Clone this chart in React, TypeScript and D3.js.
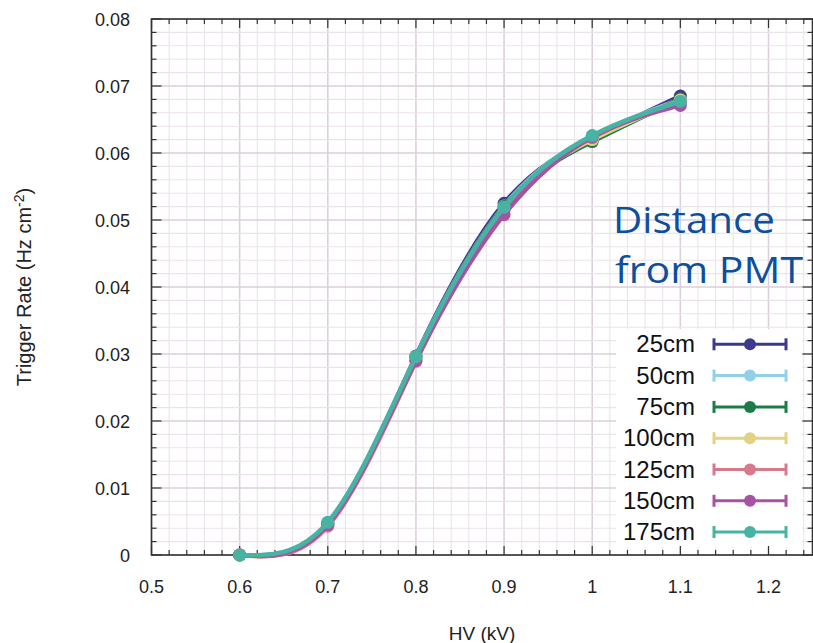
import React from 'react';
import * as d3 from 'd3';

const hv = [0.6, 0.7, 0.8, 0.9, 1.0, 1.1];
const seriesNames = ['25cm', '50cm', '75cm', '100cm', '125cm', '150cm', '175cm'];
const seriesColors = ['#3d3a8e', '#92d0ea', '#1b7c46', '#e2d283', '#d6798a', '#a653a6', '#47b3a2'];
const r25 = [0, 0.0047, 0.0297, 0.0525, 0.0622, 0.0685];
const r50 = [0, 0.0048, 0.0296, 0.0521, 0.0625, 0.068];
const r75 = [0, 0.0046, 0.0294, 0.052, 0.0617, 0.0681];
const r100 = [0, 0.0044, 0.0292, 0.0518, 0.062, 0.0679];
const r125 = [0, 0.0043, 0.0289, 0.0514, 0.0623, 0.0677];
const r150 = [0, 0.0045, 0.029, 0.0508, 0.0624, 0.0671];
const r175 = [0, 0.0049, 0.0296, 0.0519, 0.0626, 0.0677];
const seriesValues = [r25, r50, r75, r100, r125, r150, r175];
const xTicks = [0.5, 0.6, 0.7, 0.8, 0.9, 1.0, 1.1, 1.2];
const xTickLabels = ['0.5', '0.6', '0.7', '0.8', '0.9', '1', '1.1', '1.2'];
const yTicks = [0, 0.01, 0.02, 0.03, 0.04, 0.05, 0.06, 0.07, 0.08];
const yTickLabels = ['0', '0.01', '0.02', '0.03', '0.04', '0.05', '0.06', '0.07', '0.08'];

export default function App() {
  const W = 813, H = 643;
  const left = 151.5, right = 812.5, top = 19, bottom = 555;
  const x = d3.scaleLinear().domain([0.5, 1.25]).range([left, left + (769 - 152) / 0.7 * 0.75]);
  const y = d3.scaleLinear().domain([0, 0.08]).range([bottom, top]);
  const xMinor = d3.range(0, 38).map(i => 0.5 + i * 0.02).filter(v => v <= 1.25);
  const yMinor = d3.range(0, 41).map(i => i * 0.002);
  const isMajorX = (v: number) => Math.abs(v * 10 - Math.round(v * 10)) < 1e-6;
  const isMajorY = (v: number) => Math.abs(v * 100 - Math.round(v * 100)) < 1e-6;
  const line = d3.line<number>().x((_, i) => x(hv[i])).y(d => y(d)).curve(d3.curveNatural);
  const font = 'Liberation Sans, Arial, Helvetica, sans-serif';
  const legendY0 = 344.3, legendDy = 31.3;
  const blue = '#0b4f9e';
  return (
    <svg width={W} height={H} style={{ position: 'absolute', left: 0, top: 0, background: '#fff' }}>
      <rect x={0} y={0} width={W} height={H} fill="#fff" />
      {/* grid */}
      {xMinor.map((v, i) => (
        <line key={'gx' + i} x1={x(v)} x2={x(v)} y1={top} y2={bottom}
          stroke={isMajorX(v) ? '#dccfdc' : '#ebe3eb'} strokeWidth={isMajorX(v) ? 1.6 : 1.1} />
      ))}
      {yMinor.map((v, i) => (
        <line key={'gy' + i} x1={left} x2={right} y1={y(v)} y2={y(v)}
          stroke={isMajorY(v) ? '#dccfdc' : '#ebe3eb'} strokeWidth={isMajorY(v) ? 1.6 : 1.1} />
      ))}
      {/* legend background */}
      <rect x={616} y={329} width={186} height={218} fill="#fff" />
      {/* ticks */}
      {xMinor.map((v, i) => {
        const len = isMajorX(v) ? 9 : 5;
        return (
          <g key={'tx' + i}>
            <line x1={x(v)} x2={x(v)} y1={bottom} y2={bottom - len} stroke="#333" strokeWidth={1.2} />
            <line x1={x(v)} x2={x(v)} y1={top} y2={top + len} stroke="#333" strokeWidth={1.2} />
          </g>
        );
      })}
      {yMinor.map((v, i) => {
        const len = isMajorY(v) ? 10 : 5;
        return (
          <g key={'ty' + i}>
            <line x1={left} x2={left + len} y1={y(v)} y2={y(v)} stroke="#333" strokeWidth={1.2} />
            <line x1={right} x2={right - len} y1={y(v)} y2={y(v)} stroke="#333" strokeWidth={1.2} />
          </g>
        );
      })}
      <rect x={left} y={top} width={right - left} height={bottom - top} fill="none" stroke="#333" strokeWidth={1.6} />
      {/* tick labels */}
      {xTicks.map((v, i) => (
        <text key={'xl' + i} x={x(v)} y={593} textAnchor="middle" fontFamily={font} fontSize={18} fill="#222">{xTickLabels[i]}</text>
      ))}
      {yTicks.map((v, i) => (
        <text key={'yl' + i} x={130} y={y(v) + 6.5} textAnchor="end" fontFamily={font} fontSize={18} fill="#222">{yTickLabels[i]}</text>
      ))}
      <text x={482} y={640} textAnchor="middle" fontFamily={font} fontSize={19} fill="#222">HV (kV)</text>
      <text transform="translate(31,287) rotate(-90)" textAnchor="middle" fontFamily={font} fontSize={20} fill="#222">
        Trigger Rate (Hz cm<tspan dy={-7} fontSize={14}>-2</tspan><tspan dy={7}>)</tspan>
      </text>
      {/* series */}
      {seriesValues.map((vals, s) => (
        <g key={'s' + s}>
          <path d={line(vals) || ''} fill="none" stroke={seriesColors[s]} strokeWidth={4.5} strokeLinejoin="round" />
          {vals.map((v, i) => (
            <circle key={i} cx={x(hv[i])} cy={y(v)} r={6.5} fill={seriesColors[s]} />
          ))}
        </g>
      ))}
      {/* legend */}
      {seriesNames.map((n, i) => {
        const ly = legendY0 + i * legendDy;
        return (
          <g key={'lg' + i}>
            <text x={695} y={ly + 8} textAnchor="end" fontFamily={font} fontSize={24} fill="#111">{n}</text>
            <line x1={714} x2={786} y1={ly} y2={ly} stroke={seriesColors[i]} strokeWidth={3} />
            <line x1={714} x2={714} y1={ly - 6} y2={ly + 6} stroke={seriesColors[i]} strokeWidth={3} />
            <line x1={786} x2={786} y1={ly - 6} y2={ly + 6} stroke={seriesColors[i]} strokeWidth={3} />
            <circle cx={750} cy={ly} r={6} fill={seriesColors[i]} />
          </g>
        );
      })}
      {/* annotation */}
      <text x={613} y={233} textLength={162} lengthAdjust="spacingAndGlyphs" fontFamily="Open Sans, Noto Sans, sans-serif" fontSize={37} fill={blue}>Distance</text>
      <text x={615} y={283} textLength={188} lengthAdjust="spacingAndGlyphs" fontFamily="Open Sans, Noto Sans, sans-serif" fontSize={37} fill={blue}>from PMT</text>
    </svg>
  );
}
